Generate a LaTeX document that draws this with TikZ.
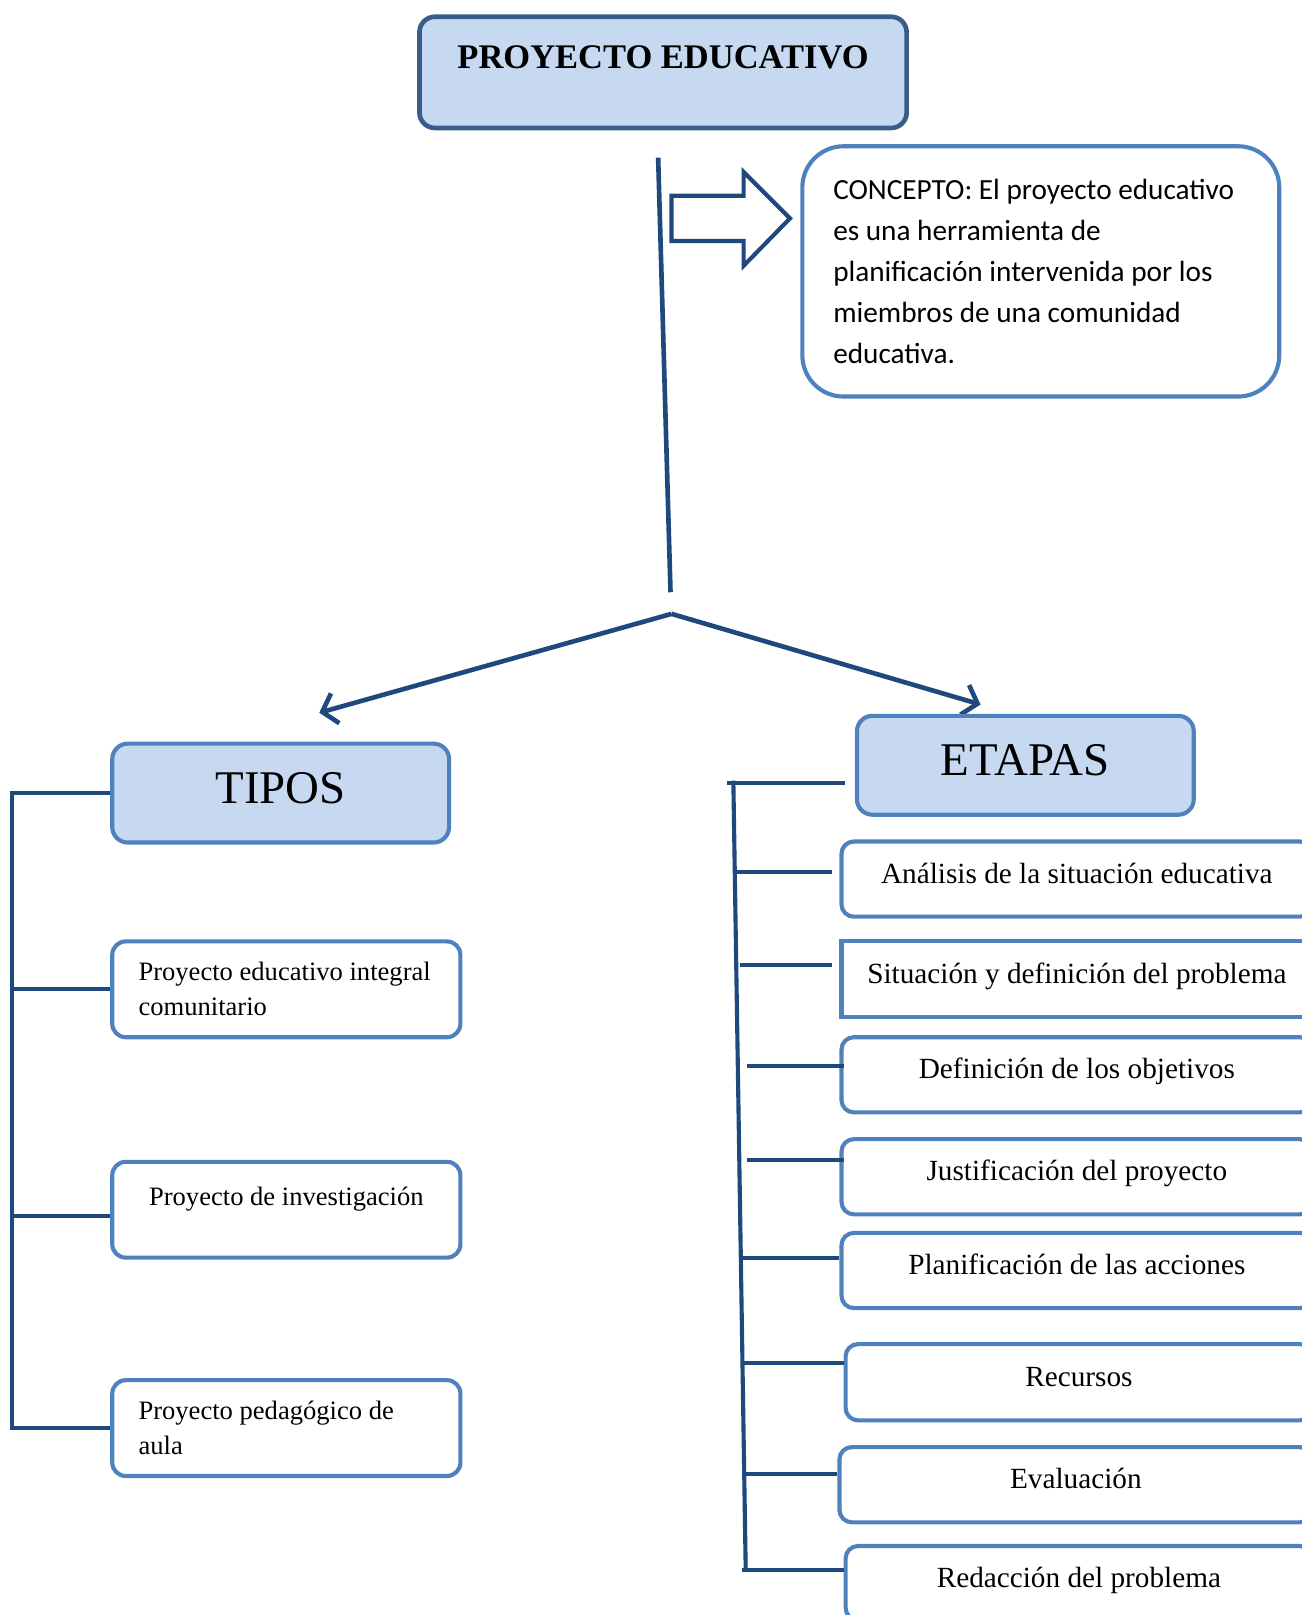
\documentclass[tikz,border=0pt]{standalone}
\usepackage{fontspec}
\setmainfont{Liberation Serif}
\newfontfamily\calib{Carlito}
\usetikzlibrary{arrows.meta}
\definecolor{dkline}{RGB}{31,73,125}
\definecolor{dkborder}{RGB}{56,93,138}
\definecolor{mdborder}{RGB}{79,129,189}
\definecolor{lfill}{RGB}{198,217,241}
\tikzset{
  mainbox/.style={draw=dkborder, line width=4.5pt, fill=lfill, rounded corners=15pt, anchor=north west, inner sep=0pt},
  headbox/.style={draw=mdborder, line width=4pt, fill=lfill, rounded corners=15pt, anchor=north west, inner sep=0pt, text height=32pt, text depth=12pt, font=\fontsize{45.5}{50}\selectfont},
  conbox/.style={draw=mdborder, line width=4pt, fill=white, rounded corners=40pt, anchor=north west, inner sep=0pt, align=left, font=\calib\fontsize{28.4}{40}\selectfont},
  leftbox/.style={draw=mdborder, line width=4pt, fill=white, rounded corners=13pt, anchor=north west, inner sep=0pt, minimum width=338pt, minimum height=93pt, font=\fontsize{25.8}{34}\selectfont},
  rightbox/.style={draw=mdborder, line width=4pt, fill=white, rounded corners=12pt, anchor=north west, inner sep=0pt, minimum height=73pt, text height=21pt, text depth=13pt, font=\fontsize{28.4}{34}\selectfont},
  conn/.style={draw=dkline, line width=4.5pt},
  brk/.style={draw=dkline, line width=4pt},
}
\begin{document}
\begin{tikzpicture}[x=1pt,y=-1pt]
\useasboundingbox (0,0) rectangle (1264,1568);
\clip (0,0) rectangle (1264,1568);
% title
\node[mainbox, minimum width=473pt, minimum height=108pt, text height=25pt, text depth=33pt, font=\bfseries\fontsize{33.5}{38}\selectfont] (main) at (405,14) {PROYECTO EDUCATIVO};
% concept
\node[conbox, minimum width=463pt, minimum height=243pt] (concepto) at (777,140) {\makebox[403pt][l]{CONCEPTO: El proyecto educativo}\\es una herramienta de\\planificación intervenida por los\\miembros de una comunidad\\educativa.};
% block arrow
\draw[dkline, line width=4pt, fill=white, line join=miter] (652,190) -- (722,190) -- (722,167) -- (767,212) -- (722,258) -- (722,234) -- (652,234) -- cycle;
% main stem
\coordinate (stemtop) at (639,153);
\coordinate (stembot) at (651,575);
\draw[conn] (stemtop) -- (stembot);
% branches
\coordinate (apex) at (652,596);
\coordinate (tipL) at (310,692);
\coordinate (tipR) at (952,684);
\draw[conn, -{Straight Barb[length=13pt,width=30pt,line width=4.5pt]}] (apex) -- (tipL);
\draw[conn, -{Straight Barb[length=13pt,width=30pt,line width=4.5pt]}] (apex) -- (tipR);
% headers
\node[headbox, minimum width=327pt, minimum height=96pt] (tipos) at (107,720) {TIPOS};
\node[headbox, minimum width=327pt, minimum height=96pt] (etapas) at (830,693) {ETAPAS};
% left boxes
\node[leftbox, align=left] (pei) at (107,912) {\makebox[287pt][l]{Proyecto educativo integral}\\comunitario};
\node[leftbox, text height=20pt, text depth=28pt] (pinv) at (107,1126) {Proyecto de investigación};
\node[leftbox, align=left] (ppa) at (107,1338) {\makebox[287pt][l]{Proyecto pedagógico de}\\aula};
% left bracket
\coordinate (lx) at (12,0);
\draw[brk] (tipos.west) -- (tipos.west -| lx) -- (ppa.west -| lx) -- (ppa.west);
\draw[brk] (pei.west -| lx) -- (pei.west);
\draw[brk] ([yshift=-6pt]pinv.west -| lx) -- ([yshift=-6pt]pinv.west);
% right boxes
\node[rightbox, minimum width=457pt] (r1) at (815,815) {Análisis de la situación educativa};
\node[rightbox, minimum width=457pt, sharp corners] (r2) at (815,912) {Situación y definición del problema};
\node[rightbox, minimum width=457pt] (r3) at (815,1005) {Definición de los objetivos};
\node[rightbox, minimum width=457pt] (r4) at (815,1104) {Justificación del proyecto};
\node[rightbox, minimum width=457pt] (r5) at (815,1195) {Planificación de las acciones};
\node[rightbox, minimum width=453pt, minimum height=74pt] (r6) at (819,1303) {Recursos};
\node[rightbox, minimum width=459pt] (r7) at (813,1403) {Evaluación};
\node[rightbox, minimum width=453pt, minimum height=72pt] (r8) at (819,1499) {Redacción del problema};
% right spine
\coordinate (rtop) at (712,758);
\coordinate (rbot) at (724,1524);
\draw[brk] (rtop) -- (rbot);
\coordinate (e0) at (706,760);
\draw[brk, shorten >=10pt] (e0) -- (e0 -| etapas.west);
\coordinate (t1) at (716,847);
\coordinate (t2) at (718,937);
\coordinate (t3) at (725,1035);
\coordinate (t4) at (725,1126);
\coordinate (t5) at (720,1221);
\coordinate (t6) at (722,1323);
\coordinate (t7) at (722,1431);
\coordinate (t8) at (720,1524);
\draw[brk, shorten >=7pt] (t1) -- (t1 -| r1.west);
\draw[brk, shorten >=7pt] (t2) -- (t2 -| r2.west);
\draw[brk] (t3) -- ([xshift=4pt]t3 -| r3.west);
\draw[brk] (t4) -- ([xshift=4pt]t4 -| r4.west);
\draw[brk] (t5) -- (t5 -| r5.west);
\draw[brk] (t6) -- (t6 -| r6.west);
\draw[brk] (t7) -- (t7 -| r7.west);
\draw[brk] (t8) -- (t8 -| r8.west);
\end{tikzpicture}
\end{document}
